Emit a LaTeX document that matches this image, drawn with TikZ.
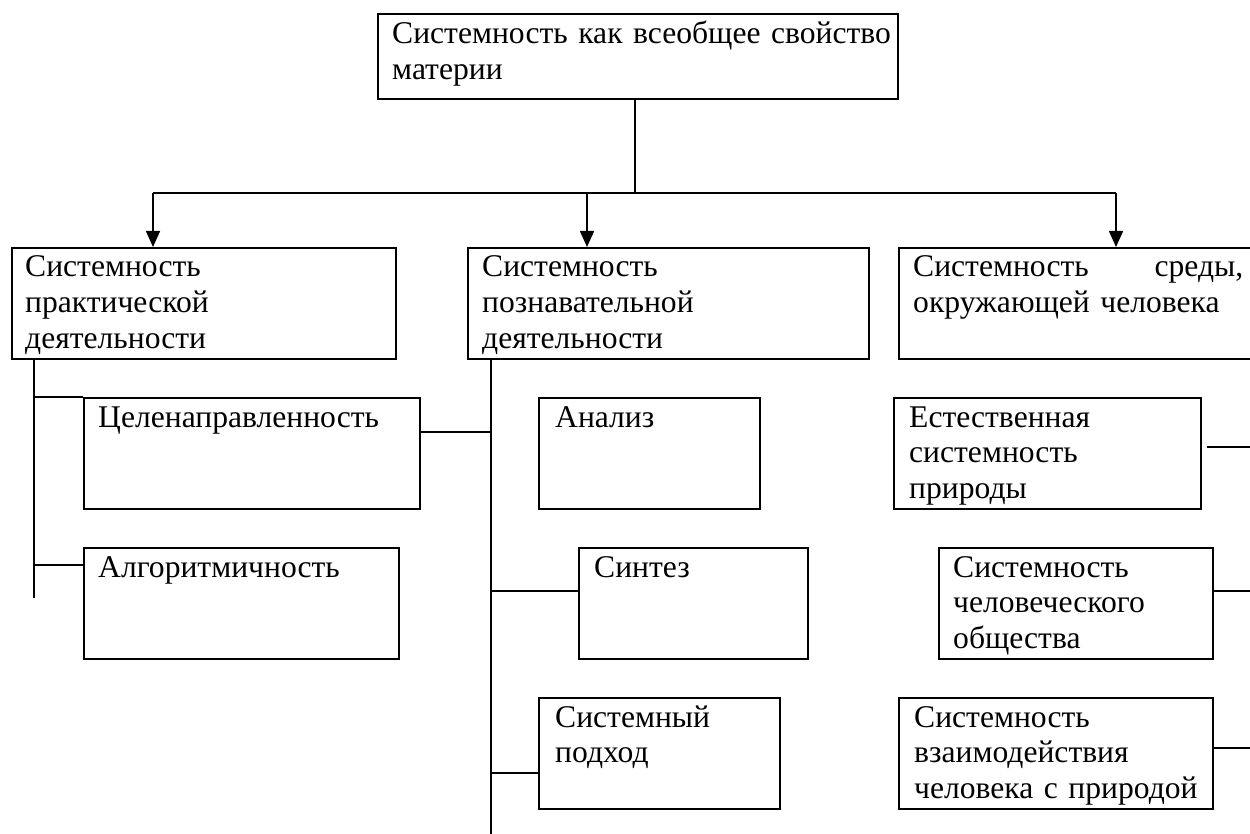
\documentclass[tikz,border=0pt]{standalone}
\usepackage{fontspec}
\setmainfont{Liberation Serif}
\usetikzlibrary{arrows.meta,calc}

\tikzset{
  box/.style={draw=black, line width=1.6pt, anchor=north west, inner sep=0pt},
  lbl/.style={anchor=base west, inner sep=0pt, align=left, text width=#1,
              font=\fontsize{31.6}{35.5}\selectfont},
  lbl/.default=400pt,
  link/.style={draw=black, line width=1.6pt},
  arr/.style={link, -{Triangle[width=14pt,length=16pt]}}
}

\begin{document}
\begin{tikzpicture}[x=1pt,y=-1pt]
\useasboundingbox (0,0) rectangle (1250,834);

% root
\node[box, minimum width=520pt, minimum height=85pt] (root) at (377,13) {};
\node[lbl=505pt] (roott) at (392,44) {Системность как всеобщее свойство\\материи};

% three kinds of systemness
\node[box, minimum width=384pt, minimum height=111pt] (prac) at (11,247) {};
\node[lbl] (pract) at (25,277) {Системность\\практической\\деятельности};
\node[box, minimum width=401pt, minimum height=111pt] (cogn) at (467,247) {};
\node[lbl] (cognt) at (482,277) {Системность\\познавательной\\деятельности};
\node[box, minimum width=380pt, minimum height=111pt] (envi) at (898,247) {};
\node[lbl=340pt] (envit) at (913,277) {\hbox to 330pt{Системность\hfill среды,}\\окружающей человека};

% practical activity
\node[box, minimum width=336pt, minimum height=111pt] (goal) at (83,397) {};
\node[lbl] (goalt) at (98,427) {Целенаправленность};
\node[box, minimum width=315pt, minimum height=111pt] (algo) at (83,547) {};
\node[lbl] (algot) at (98,577) {Алгоритмичность};

% cognitive activity
\node[box, minimum width=221pt, minimum height=111pt] (anal) at (538,397) {};
\node[lbl] (analt) at (555,427) {Анализ};
\node[box, minimum width=229pt, minimum height=111pt] (synt) at (578,547) {};
\node[lbl] (syntt) at (594,577) {Синтез};
\node[box, minimum width=241pt, minimum height=111pt] (sysa) at (538,697) {};
\node[lbl] (sysat) at (555,727) {Системный\\подход};

% environment
\node[box, minimum width=307pt, minimum height=111pt] (natu) at (893,397) {};
\node[lbl] (natut) at (909,427) {Естественная\\системность\\природы};
\node[box, minimum width=274pt, minimum height=111pt] (soci) at (938,547) {};
\node[lbl] (socit) at (953,577) {Системность\\человеческого\\общества};
\node[box, minimum width=314pt, minimum height=111pt] (inte) at (898,697) {};
\node[lbl] (intet) at (914,727) {Системность\\взаимодействия\\человека с природой};

% distribution bar with arrows
\coordinate (bar) at (635,193);
\coordinate (a1) at (153,193);
\coordinate (a2) at (587,193);
\coordinate (a3) at (1116,193);
\draw[link] (root.south -| bar) -- (bar);
\draw[link] (a1) -- (a3);
\draw[arr] (a1) -- (a1 |- prac.north);
\draw[arr] (a2) -- (a2 |- cogn.north);
\draw[arr] (a3) -- (a3 |- envi.north);

% left trunk
\coordinate (lt) at (34,358);
\coordinate (lb) at (34,598);
\coordinate (lk) at (34,565);
\draw[link] (lt) -- (lb);
\draw[link] (lt |- goal.north) -- (goal.north west);
\draw[link] (lk) -- (lk -| algo.west);

% middle trunk
\coordinate (mt) at (491,358);
\coordinate (mb) at (491,834);
\coordinate (mg) at (491,432);
\coordinate (ms) at (491,591);
\coordinate (mp) at (491,773);
\draw[link] (mt) -- (mb);
\draw[link] (goal.east |- mg) -- (mg);
\draw[link] (ms) -- (ms -| synt.west);
\draw[link] (mp) -- (mp -| sysa.west);

% right-hand links
\coordinate (rn) at (1250,447);
\coordinate (rs) at (1250,591);
\coordinate (ri) at (1250,748);
\draw[link] (natu.east |- rn) ++(5,0) -- (rn);
\draw[link] (soci.east |- rs) -- (rs);
\draw[link] (inte.east |- ri) -- (ri);
\end{tikzpicture}
\end{document}
